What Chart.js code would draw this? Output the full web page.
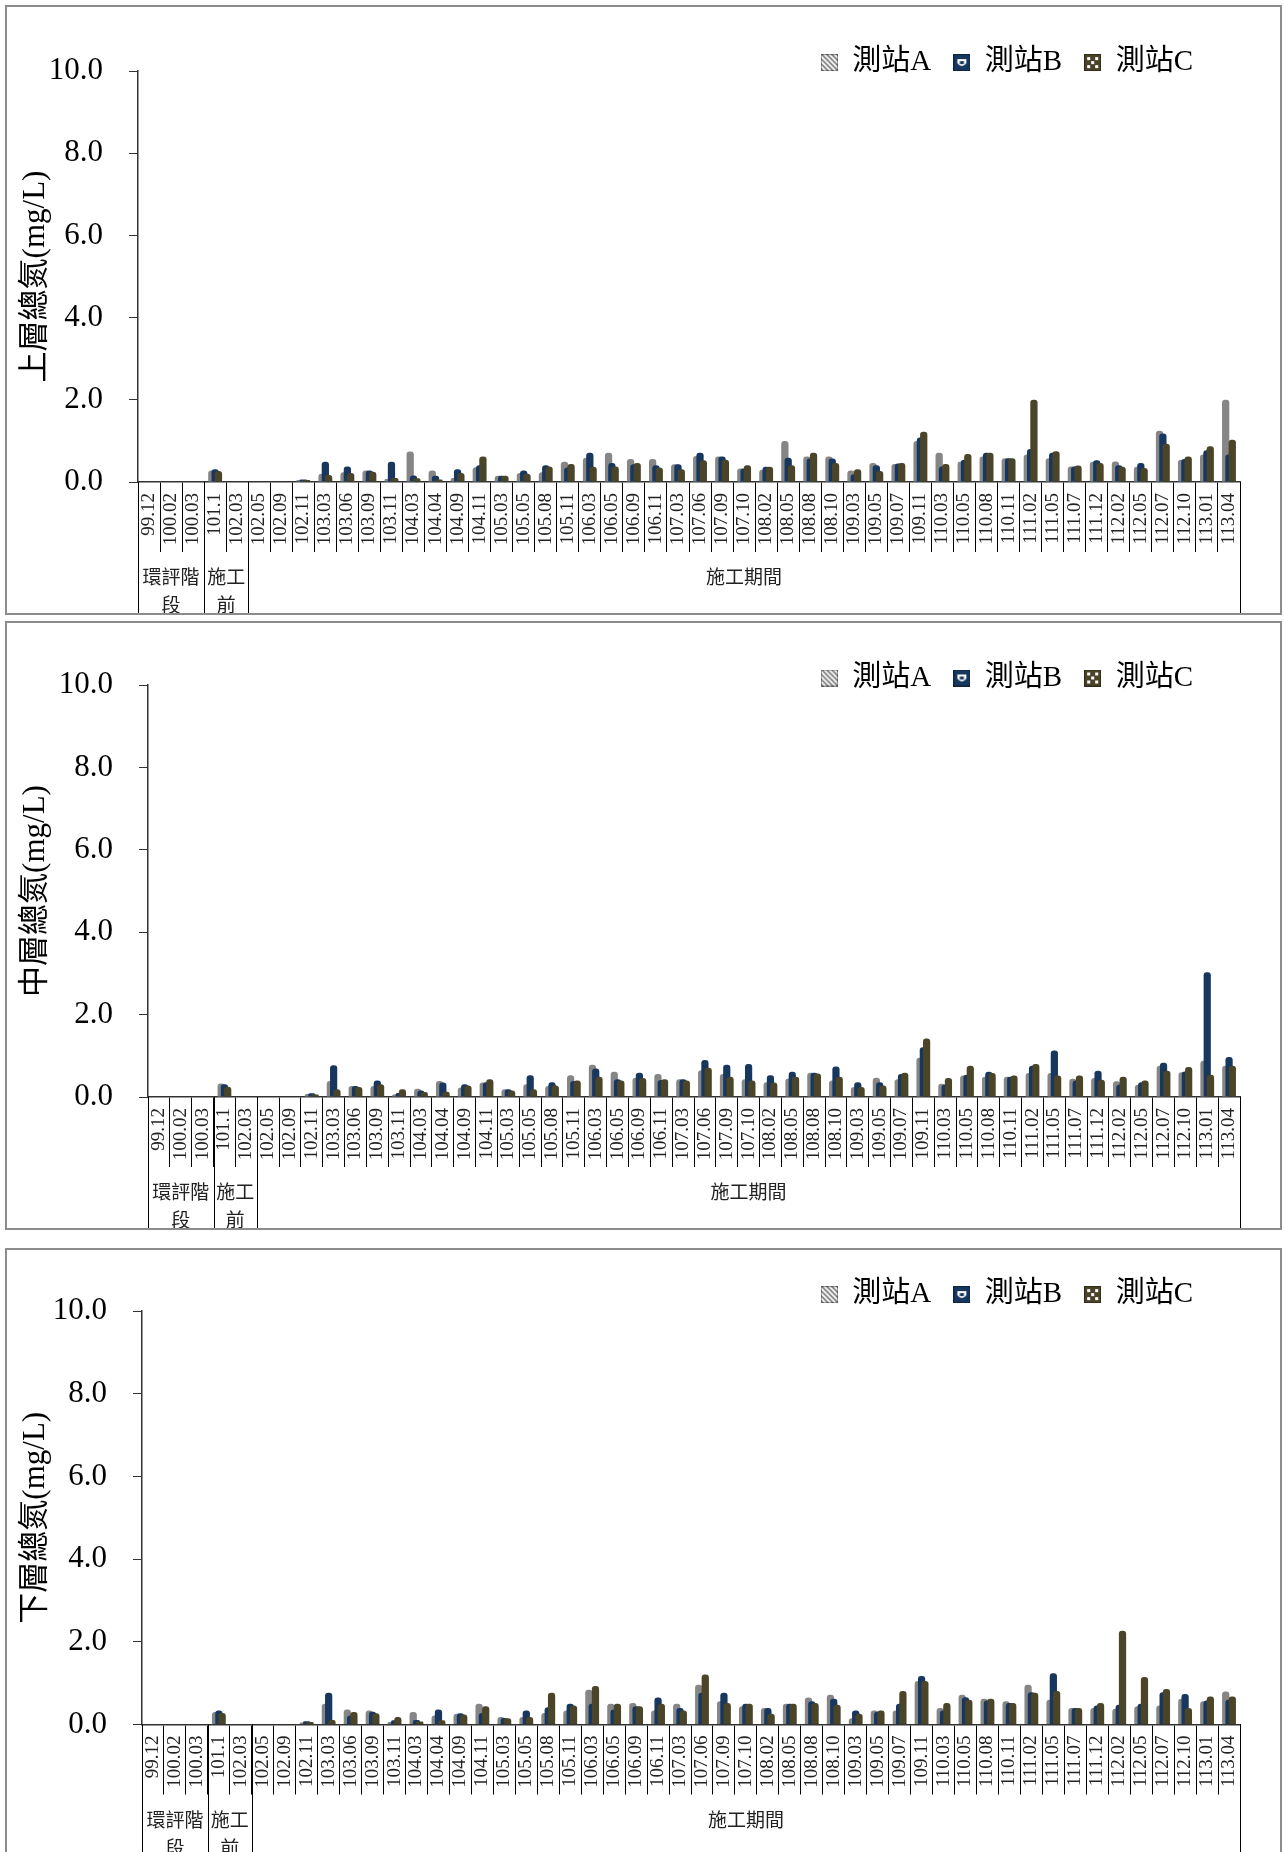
<!DOCTYPE html>
<html>
<head>
<meta charset="utf-8">
<title>總氮</title>
<script src="https://cdn.jsdelivr.net/npm/chart.js@4.4.1/dist/chart.umd.min.js"></script>
<style>
  body { margin: 0; background: #fff; width: 1284px; height: 1852px; overflow: hidden; position: relative; }
  .panel { position: absolute; left: 5px; width: 1277px; border: 2px solid #8c8c8c; box-sizing: border-box; background: #fff; }
  .panel canvas { display: block; }
</style>
</head>
<body>
<div class="panel" style="top:5px;height:610px"><canvas id="c1" width="1273" height="606"></canvas></div>
<div class="panel" style="top:621px;height:609px"><canvas id="c2" width="1273" height="605"></canvas></div>
<div class="panel" style="top:1248px;height:610px"><canvas id="c3" width="1273" height="606"></canvas></div>
<script>
// 調查季別
const categories = ['99.12','100.02','100.03','101.1','102.03','102.05','102.09','102.11','103.03','103.06',
  '103.09','103.11','104.03','104.04','104.09','104.11','105.03','105.05','105.08','105.11',
  '106.03','106.05','106.09','106.11','107.03','107.06','107.09','107.10','108.02','108.05',
  '108.08','108.10','109.03','109.05','109.07','109.11','110.03','110.05','110.08','110.11',
  '111.02','111.05','111.07','111.12','112.02','112.05','112.07','112.10','113.01','113.04'];

// 第二層分類 (階段) 及其涵蓋的季別數
const groupNames = ['環評階段', '施工前', '施工期間'];
const groupSpans = [3, 2, 45];

const stationNames = ['測站A', '測站B', '測站C'];
const yMin = 0, yMax = 10, yStep = 2;

// 上層總氮 (mg/L)
const upperA = [null,null,null,0.28,null,null,null,0.05,0.20,0.24,0.28,0.07,0.74,0.28,0.10,0.36,0.15,0.22,0.24,0.49,
  0.59,0.71,0.56,0.56,0.43,0.63,0.62,0.33,0.30,1.00,0.62,0.62,0.28,0.46,0.44,1.00,0.71,0.50,0.62,0.58,
  0.67,0.58,0.38,0.49,0.50,0.37,1.25,0.54,0.67,2.00];
const upperB = [null,null,null,0.31,null,null,null,0.06,0.49,0.38,0.28,0.49,0.16,0.15,0.31,0.41,0.15,0.28,0.41,0.35,
  0.71,0.46,0.43,0.41,0.43,0.71,0.62,0.33,0.37,0.59,0.57,0.57,0.19,0.41,0.45,1.08,0.38,0.54,0.71,0.58,
  0.80,0.71,0.38,0.53,0.41,0.46,1.18,0.56,0.77,0.67];
const upperC = [null,null,null,0.27,null,null,null,0.05,0.17,0.22,0.25,0.10,0.09,0.06,0.22,0.62,0.15,0.20,0.38,0.44,
  0.37,0.38,0.46,0.35,0.31,0.53,0.54,0.41,0.37,0.41,0.71,0.46,0.31,0.27,0.46,1.22,0.44,0.68,0.71,0.58,
  2.00,0.75,0.40,0.46,0.37,0.34,0.93,0.62,0.87,1.03];

// 中層總氮 (mg/L)
const middleA = [null,null,null,0.33,null,null,null,0.07,0.39,0.27,0.27,0.06,0.20,0.39,0.23,0.35,0.19,0.31,0.27,0.53,
  0.78,0.61,0.47,0.56,0.43,0.65,0.56,0.43,0.36,0.45,0.59,0.40,0.24,0.47,0.43,0.95,0.32,0.52,0.49,0.49,
  0.58,0.58,0.44,0.46,0.38,0.30,0.76,0.60,0.88,0.76];
const middleB = [null,null,null,0.31,null,null,null,0.09,0.77,0.27,0.40,0.10,0.16,0.35,0.31,0.36,0.19,0.53,0.36,0.39,
  0.69,0.43,0.59,0.41,0.43,0.90,0.78,0.80,0.53,0.61,0.59,0.74,0.36,0.36,0.56,1.21,0.30,0.54,0.61,0.49,
  0.76,1.13,0.40,0.64,0.30,0.36,0.83,0.62,3.03,0.97];
const middleC = [null,null,null,0.25,null,null,null,0.06,0.19,0.24,0.31,0.19,0.12,0.13,0.28,0.43,0.16,0.19,0.28,0.40,
  0.49,0.40,0.46,0.43,0.40,0.71,0.49,0.40,0.35,0.49,0.57,0.49,0.24,0.28,0.59,1.42,0.46,0.76,0.58,0.52,
  0.80,0.52,0.52,0.42,0.49,0.40,0.64,0.73,0.54,0.76];

// 下層總氮 (mg/L)
const lowerA = [null,null,null,0.30,null,null,null,0.05,0.50,0.36,0.34,0.06,0.30,0.22,0.26,0.50,0.18,0.18,0.28,0.34,
  0.84,0.50,0.52,0.34,0.50,0.96,0.56,0.44,0.40,0.50,0.65,0.72,0.15,0.34,0.34,1.05,0.40,0.72,0.62,0.56,
  0.96,0.60,0.40,0.40,0.38,0.44,0.46,0.62,0.56,0.80];
const lowerB = [null,null,null,0.34,null,null,null,0.08,0.77,0.22,0.31,0.10,0.11,0.36,0.27,0.28,0.16,0.34,0.42,0.50,
  0.50,0.36,0.44,0.65,0.40,0.77,0.77,0.50,0.40,0.50,0.56,0.62,0.34,0.31,0.50,1.17,0.34,0.66,0.58,0.52,
  0.78,1.24,0.40,0.46,0.48,0.50,0.78,0.74,0.58,0.60];
const lowerC = [null,null,null,0.28,null,null,null,0.06,0.11,0.30,0.27,0.18,0.07,0.10,0.24,0.44,0.15,0.18,0.77,0.46,
  0.93,0.50,0.44,0.50,0.34,1.21,0.52,0.50,0.26,0.50,0.52,0.48,0.26,0.34,0.81,1.05,0.52,0.60,0.62,0.52,
  0.77,0.81,0.40,0.52,2.27,1.15,0.86,0.40,0.68,0.68];

const COLORS = ['#868686', '#17375e', '#4a4429'];
const SERIF = "'Liberation Serif', 'Noto Sans CJK TC', serif";
const CJK = "'Noto Sans CJK TC', sans-serif";

// 圖例的小方塊 (仿 Excel 的圖樣填滿)
function makeSwatch(i) {
  const c = document.createElement('canvas');
  c.width = 17; c.height = 17;
  const g = c.getContext('2d');
  g.fillStyle = COLORS[i];
  g.fillRect(0, 0, 17, 17);
  g.strokeStyle = '#fff';
  g.fillStyle = '#fff';
  if (i === 0) {
    g.lineWidth = 1.6;
    for (let k = -17; k < 34; k += 5) {
      g.beginPath(); g.moveTo(k, 0); g.lineTo(k + 17, 17); g.stroke();
    }
  } else if (i === 1) {
    g.beginPath();
    g.moveTo(4, 5); g.lineTo(13, 5); g.lineTo(13, 9);
    g.quadraticCurveTo(8.5, 15, 4, 9); g.closePath(); g.fill();
    g.fillStyle = COLORS[1];
    g.fillRect(6.5, 7, 4, 3);
  } else {
    for (let yy = 3; yy < 15; yy += 4)
      for (let xx = 3; xx < 15; xx += 4)
        if ((xx + yy) % 8 !== 2) g.fillRect(xx, yy, 3, 3);
  }
  g.strokeStyle = 'rgba(0,0,0,0.35)';
  g.lineWidth = 1;
  g.strokeRect(0.5, 0.5, 16, 16);
  return c;
}
const swatches = [0, 1, 2].map(makeSwatch);

const LEGEND_FONT = 29;
const LEGEND_PAD = 22;

// 圖例位置、繪製順序(A 在後、C 在前)與下方的雙層分類軸
const tableAxis = {
  id: 'tableAxis',
  afterLayout(chart, args, opts) {
    const lg = chart.legend;
    if (!lg) return;
    const w = lg.width, h = lg.height;
    lg.right = opts.legendRight + LEGEND_PAD;
    lg.left = lg.right - w;
    lg.top = opts.legendY - LEGEND_PAD - LEGEND_FONT / 2;
    lg.bottom = lg.top + h;
  },
  beforeDatasetsDraw(chart) {
    chart.getSortedVisibleDatasetMetas().forEach(m => m.controller.draw());
    return false;
  },
  afterDraw(chart) {
    const ctx = chart.ctx;
    const xs = chart.scales.x;
    const n = categories.length;
    const step = xs.width / n;
    const base = chart.chartArea.bottom;
    const bottom = chart.height;
    ctx.save();
    ctx.strokeStyle = '#000';
    ctx.lineWidth = 1;
    let k = 0;
    const edges = [0];
    groupSpans.forEach(s => { k += s; edges.push(k); });
    edges.forEach(e => {
      const px = Math.round(xs.left + e * step) + 0.5;
      ctx.beginPath(); ctx.moveTo(px, base); ctx.lineTo(px, bottom); ctx.stroke();
    });
    ctx.fillStyle = '#222';
    ctx.font = '19px ' + CJK;
    ctx.textAlign = 'center';
    ctx.textBaseline = 'middle';
    groupNames.forEach((name, gi) => {
      const x0 = xs.left + edges[gi] * step;
      const x1 = xs.left + edges[gi + 1] * step;
      const avail = x1 - x0 - 4;
      const lines = [];
      let cur = '';
      for (const ch of name) {
        if (cur && ctx.measureText(cur + ch).width > avail) { lines.push(cur); cur = ch; }
        else cur += ch;
      }
      lines.push(cur);
      lines.forEach((ln, li) => ctx.fillText(ln, (x0 + x1) / 2, base + 95 + li * 28));
    });
    ctx.restore();
  }
};

function makePanel(id, title, series, axisLeft, plotTop, bottomH, legendY) {
  new Chart(document.getElementById(id), {
    type: 'bar',
    data: {
      labels: categories,
      datasets: series.map((d, i) => ({
        label: stationNames[i],
        data: d,
        backgroundColor: COLORS[i],
        borderRadius: 3,
        categoryPercentage: 0.45,
        barPercentage: 2.2
      }))
    },
    options: {
      responsive: false,
      animation: false,
      layout: { padding: { top: plotTop - (LEGEND_FONT + LEGEND_PAD + 10), right: 40, left: 0, bottom: 0 } },
      plugins: {
        tooltip: { enabled: false },
        legend: {
          position: 'top',
          align: 'end',
          labels: {
            usePointStyle: true,
            boxWidth: 17,
            boxHeight: 17,
            padding: LEGEND_PAD,
            color: '#000',
            font: { family: SERIF, size: LEGEND_FONT },
            generateLabels(chart) {
              const items = Chart.defaults.plugins.legend.labels.generateLabels(chart);
              items.forEach((it, i) => { it.pointStyle = swatches[i]; });
              return items;
            }
          }
        },
        tableAxis: { legendRight: 1186, legendY: legendY }
      },
      scales: {
        x: {
          offset: true,
          grid: { offset: true, drawOnChartArea: false, drawTicks: true, tickLength: 70, color: '#000', lineWidth: 1 },
          border: { color: '#333', width: 1.5 },
          ticks: {
            autoSkip: false, minRotation: 90, maxRotation: 90, padding: -59,
            color: '#222', font: { family: SERIF, size: 19 }
          },
          afterFit(s) { s.height = bottomH; }
        },
        y: {
          min: yMin, max: yMax,
          grid: { drawOnChartArea: false, tickLength: 9, color: '#333' },
          border: { color: '#333', width: 1.5 },
          ticks: {
            stepSize: yStep, padding: 26, color: '#000',
            font: { family: SERIF, size: 31 },
            callback: v => v.toFixed(1)
          },
          title: {
            display: true, text: title, color: '#000',
            font: { family: SERIF, size: 31 },
            padding: { top: 10, bottom: 0 }
          },
          afterFit(s) { s.width = axisLeft; }
        }
      }
    },
    plugins: [tableAxis]
  });
}

makePanel('c1', '上層總氮(mg/L)', [upperA, upperB, upperC], 131, 64, 131, 55.6);
makePanel('c2', '中層總氮(mg/L)', [middleA, middleB, middleC], 141, 62, 131, 55);
makePanel('c3', '下層總氮(mg/L)', [lowerA, lowerB, lowerC], 135, 61, 131.5, 44.6);
</script>
</body>
</html>
